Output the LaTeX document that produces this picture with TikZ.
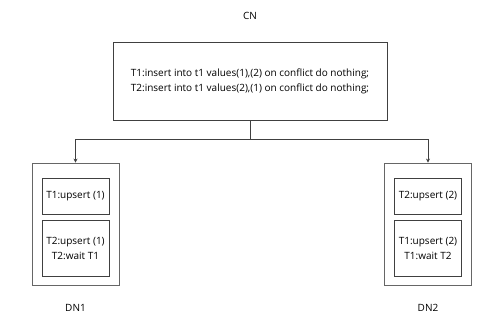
\documentclass[tikz,border=0pt]{standalone}
\usepackage{fontspec}
\setmainfont{Open Sans}
\usetikzlibrary{positioning, arrows.meta}

\begin{document}
\begin{tikzpicture}[
        x=1pt, y=1pt,
        node distance=6pt,
        box/.style={rectangle, draw=black!75, line width=0.8pt, inner sep=0pt, align=center, font={\fontsize{10}{15}\selectfont}},
        cnbox/.style={box, minimum width=274pt, minimum height=78pt},
        dnbox/.style={box, draw=black!60, minimum width=87pt, minimum height=122pt},
        opbox/.style={box, minimum width=67pt, minimum height=36pt},
        waitbox/.style={box, minimum width=67pt, minimum height=56pt},
        title/.style={font={\fontsize{10}{12}\selectfont}},
        arrow/.style={-{Stealth[length=4pt, width=4pt]}, draw=black!75, line width=0.8pt},
        line/.style={draw=black!75, line width=0.8pt}
    ]
%
    \useasboundingbox (0,0) rectangle (496,315);
%
    % Nodes
    \node[cnbox] (cn) at (250,234) {T1:insert into t1 values(1),(2) on conflict do nothing;\\T2:insert into t1 values(2),(1) on conflict do nothing;};
    \node[title, above=18pt of cn] (cnlabel) {CN};
%
    \node[dnbox] (dn1) at (75.5,91) {};
    \node[opbox, below=15pt of dn1.north] (dn1op) {T1:upsert (1)};
    \node[waitbox, below=of dn1op] (dn1wait) {T2:upsert (1)\\T2:wait T1};
    \node[title, below=15pt of dn1] (dn1label) {DN1};
%
    \node[dnbox] (dn2) at (428,91) {};
    \node[opbox, below=15pt of dn2.north] (dn2op) {T2:upsert (2)};
    \node[waitbox, below=of dn2op] (dn2wait) {T1:upsert (2)\\T1:wait T2};
    \node[title, below=15pt of dn2] (dn2label) {DN2};
%
    % Arrows
    \coordinate[below=19pt of cn.south] (split);
    \draw[line] (cn) -- (split);
    \draw[arrow] (split) -| (dn1);
    \draw[arrow] (split) -| (dn2);
%
\end{tikzpicture}
\end{document}
